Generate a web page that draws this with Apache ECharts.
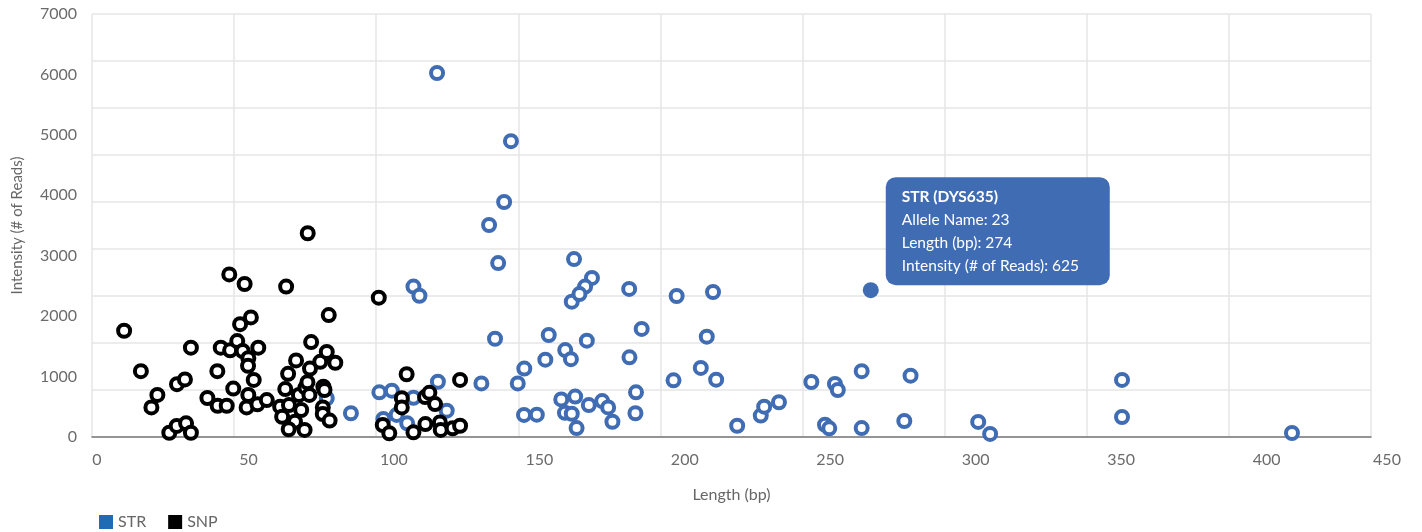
<!DOCTYPE html>
<html>
<head>
<meta charset="utf-8">
<script src="https://cdn.jsdelivr.net/npm/echarts@6/dist/echarts.min.js"></script>
<style>
html,body{margin:0;padding:0;background:#fff;}
#chart{width:1422px;height:532px;}
</style>
</head>
<body>
<div id="chart"></div>
<script>
// ---- data (Length bp, Intensity # of reads) ----
const strLength = [113.1,115.2,121.7,113.1,124.8,101.1,105.5,107.2,102.5,110.9,91.1,82.6,137.0,
  141.8,149.8,152.1,160.7,159.5,166.5,168.5,174.1,193.4,189.1,191.4,191.2,152.0,156.5,165.1,170.0,166.4,168.8,170.5,174.8,179.5,181.6,183.1,
  168.8,205.7,216.3,204.6,214.2,219.6,227.0,235.3,236.5,241.7,253.1,261.4,262.4,270.8,288.0,257.9,259.4,270.8,285.8,
  121.4,147.4,145.0,139.7,142.9,169.6,175.9,173.5,171.5,189.0,218.5,362.4,362.4,311.8,316.0,422.2];
const strIntensity = [640,601,235,167,112,190,197,94,77,58,101,165,228,
  418,228,291,434,329,370,331,410,460,339,190,101,94,95,160,172,103,99,38,136,153,126,65,
  576,600,427,241,294,244,48,91,129,148,234,226,200,280,261,52,37,38,68,
  1549,1259,1000,902,740,757,677,640,608,630,617,243,85,64,13,17];

const snpLength = [11.3,17.2,23.0,20.9,29.9,32.7,34.8,27.2,29.8,33.1,34.8,40.6,44.1,44.2,47.4,45.3,48.3,53.7,48.6,51.1,
  52.1,55.9,53.0,55.0,54.9,58.5,49.7,56.9,55.0,54.4,58.2,61.5,68.3,75.9,83.3,77.1,71.8,76.7,69.0,80.3,
  82.6,85.6,68.0,72.8,75.1,75.8,76.5,81.4,81.8,66.2,69.3,66.9,73.6,71.4,69.2,74.8,81.2,81.2,83.6,100.9,
  110.7,109.0,109.0,102.3,104.6,113.1,117.3,117.2,118.7,120.7,122.4,122.7,126.9,129.5,129.5];
const snpIntensity = [452,280,179,126,225,245,380,18,47,58,18,166,280,133,133,380,692,651,369,408,
  480,509,366,335,303,380,206,243,179,126,139,157,640,867,519,404,326,291,269,320,
  362,316,204,179,210,233,179,214,200,129,136,86,115,65,33,30,126,98,70,593,
  267,165,126,51,16,20,55,170,188,140,62,30,37,48,243];

// highlighted STR point (shown with its info box)
const focusName = 'STR (DYS635)';
const focusAllele = '23';
const focusLength = 274;
const focusIntensity = 625;

// tick labels
const yTickLabels = [0,1000,2000,3000,4000,5000,6000,7000];
const xTickLabels = [0,50,100,150,200,250,300,350,400,450];

const seriesNames = ['STR','SNP'];
const strColor = '#3f6cb2';
const snpColor = '#000000';
const font = 'Lato';

const strData = strLength.map((x,i)=>[x,strIntensity[i]]);
const snpData = snpLength.map((x,i)=>[x,snpIntensity[i]]);

const focusItem = {
  value:[focusLength, focusIntensity],
  symbol:'circle',
  symbolSize:16,
  itemStyle:{color:strColor, borderWidth:0, opacity:1},
  label:{
    show:true,
    position:[23,-105],
    formatter: '{t|'+focusName+'}\n{b|Allele Name: '+focusAllele+'}\n{b|Length (bp): '+focusLength+'}\n{b|Intensity (# of Reads): '+focusIntensity+'}',
    backgroundColor:strColor,
    borderRadius:10,
    padding:[8,16,8,16],
    width:192,
    color:'#fff',
    rich:{
      t:{fontFamily:font,fontWeight:'bold',fontSize:15.5,color:'#fff',lineHeight:23},
      b:{fontFamily:font,fontSize:15.5,color:'#fff',lineHeight:23}
    }
  }
};
strData.push(focusItem);

const chart = echarts.init(document.getElementById('chart'));
chart.setOption({
  animation:false,
  textStyle:{fontFamily:font},
  grid:[
    {left:92, right:51, top:14, bottom:95},
    {left:103, right:10, top:14, bottom:95}
  ],
  legend:{
    left:94, top:509,
    icon:'rect', itemWidth:14, itemHeight:14, itemGap:22,
    textStyle:{fontFamily:font, fontSize:16, color:'#666'},
    data:[
      {name:seriesNames[0], itemStyle:{color:'#1f6cb5', borderWidth:0, opacity:1}},
      {name:seriesNames[1], itemStyle:{color:'#000', borderWidth:0, opacity:1}}
    ]
  },
  xAxis:[
    {
      type:'value', gridIndex:0, min:0, max:450, interval:50,
      name:'Length (bp)', nameLocation:'middle', nameGap:50,
      nameTextStyle:{fontFamily:font, fontSize:16, color:'#666'},
      axisLine:{show:true, lineStyle:{color:'#777', width:1.5}},
      axisTick:{show:false},
      axisLabel:{show:false},
      splitLine:{show:true, lineStyle:{color:'#e6e6e6', width:1.5}}
    },
    {
      type:'value', gridIndex:1, min:0, max:450, interval:50,
      axisLine:{show:false}, axisTick:{show:false}, splitLine:{show:false},
      axisLabel:{
        show:true, margin:15, fontFamily:font, fontSize:16, color:'#6b6b6b',
        formatter:function(v){
          const i = xTickLabels.indexOf(v);
          const t = i>=0 ? String(xTickLabels[i]) : '';
          if (v===450) return '{e|'+t+'}';
          if (v===0) return '{s|'+t+'}';
          return t;
        },
        rich:{
          e:{fontFamily:font, fontSize:16, color:'#6b6b6b', padding:[0,50,0,0]},
          s:{fontFamily:font, fontSize:16, color:'#6b6b6b', padding:[0,12,0,0]}
        }
      }
    }
  ],
  yAxis:[
    {
      type:'value', gridIndex:0, min:0, max:1800, interval:200,
      axisLine:{show:false}, axisTick:{show:false}, axisLabel:{show:false},
      splitLine:{show:true, lineStyle:{color:'#e6e6e6', width:1.5}}
    },
    {
      type:'value', gridIndex:0, min:yTickLabels[0], max:yTickLabels[yTickLabels.length-1], interval:1000,
      position:'left',
      name:'Intensity (# of Reads)', nameLocation:'middle', nameGap:67,
      nameTextStyle:{fontFamily:font, fontSize:15, color:'#666'},
      axisLine:{show:false}, axisTick:{show:false}, splitLine:{show:false},
      axisLabel:{show:true, margin:15, fontFamily:font, fontSize:16, color:'#6b6b6b',
        formatter:function(v){ const i = yTickLabels.indexOf(v); return i>=0 ? String(yTickLabels[i]) : ''; }}
    },
    {
      type:'value', gridIndex:1, min:0, max:1, show:false
    }
  ],
  series:[
    {
      name:seriesNames[0], type:'scatter', xAxisIndex:0, yAxisIndex:0,
      symbol:'circle', symbolSize:12,
      itemStyle:{color:'#ffffff', borderColor:strColor, borderWidth:4, opacity:1},
      data:strData, z:2
    },
    {
      name:seriesNames[1], type:'scatter', xAxisIndex:0, yAxisIndex:0,
      symbol:'circle', symbolSize:12,
      itemStyle:{color:'#ffffff', borderColor:snpColor, borderWidth:4, opacity:1},
      data:snpData, z:3
    }
  ]
});
</script>
</body>
</html>
